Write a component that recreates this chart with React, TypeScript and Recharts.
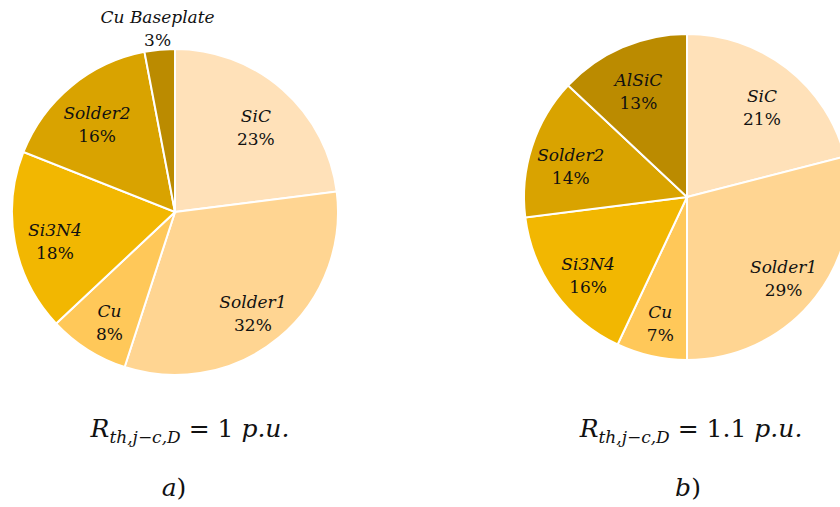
import { PieChart, Pie, Cell } from 'recharts';

const namesA = ['SiC', 'Solder1', 'Cu', 'Si3N4', 'Solder2', 'Cu Baseplate'];
const valuesA = [23, 32, 8, 18, 16, 3];
const namesB = ['SiC', 'Solder1', 'Cu', 'Si3N4', 'Solder2', 'AlSiC'];
const valuesB = [21, 29, 7, 16, 14, 13];
const COLORS = ['#FFE1B9', '#FFD592', '#FFC859', '#F2B701', '#D9A300', '#BB8B00'];

const dataA = namesA.map((name, i) => ({ name, value: valuesA[i] }));
const dataB = namesB.map((name, i) => ({ name, value: valuesB[i] }));

const RADIAN = Math.PI / 180;
const FONT = '"DejaVu Serif", serif';

const renderLabel = (props: any) => {
  const { cx, cy, midAngle, outerRadius, name, value } = props;
  const outside = value < 5;
  const r = outside ? outerRadius + 22 : outerRadius * 0.75;
  const x = cx + r * Math.cos(-midAngle * RADIAN);
  const y = cy + r * Math.sin(-midAngle * RADIAN) + (outside ? 0 : 6);
  return (
    <text x={x} y={y} textAnchor="middle" fill="#111" fontFamily={FONT} fontSize={17}>
      <tspan x={x} y={y - 9} dominantBaseline="middle" fontStyle="italic">{name}</tspan>
      <tspan x={x} y={y + 14} dominantBaseline="middle">{value}%</tspan>
    </text>
  );
};

const Formula = ({ left, tagLeft, value, tag }: { left: number; tagLeft: number; value: string; tag: string }) => (
  <>
    <div style={{ position: 'absolute', left: left - 160, width: 320, top: 414, textAlign: 'center', fontFamily: FONT, fontSize: 25, color: '#111', whiteSpace: 'nowrap' }}>
      <i>R</i><sub style={{ fontSize: 17, fontStyle: 'italic' }}>th,j−c,D</sub> = {value} <i>p.u.</i>
    </div>
    <div style={{ position: 'absolute', left: tagLeft - 50, width: 100, top: 473, textAlign: 'center', fontFamily: FONT, fontSize: 25, color: '#111' }}>
      <i>{tag}</i>)
    </div>
  </>
);

export default function App() {
  return (
    <div style={{ position: 'absolute', left: 0, top: 0, width: 840, height: 507, background: '#fff', overflow: 'hidden' }}>
      <PieChart width={840} height={507} margin={{ top: 0, right: 0, bottom: 0, left: 0 }}>
        <Pie data={dataA} dataKey="value" nameKey="name" cx={175} cy={212} outerRadius={163} startAngle={90} endAngle={-270}
          stroke="#fff" strokeWidth={2} label={renderLabel} labelLine={false} isAnimationActive={false}>
          {dataA.map((_, i) => <Cell key={i} fill={COLORS[i]} />)}
        </Pie>
        <Pie data={dataB} dataKey="value" nameKey="name" cx={687} cy={197} outerRadius={163} startAngle={90} endAngle={-270}
          stroke="#fff" strokeWidth={2} label={renderLabel} labelLine={false} isAnimationActive={false}>
          {dataB.map((_, i) => <Cell key={i} fill={COLORS[i]} />)}
        </Pie>
      </PieChart>
      <Formula left={190} tagLeft={174} value="1" tag="a" />
      <Formula left={691} tagLeft={688} value="1.1" tag="b" />
    </div>
  );
}
